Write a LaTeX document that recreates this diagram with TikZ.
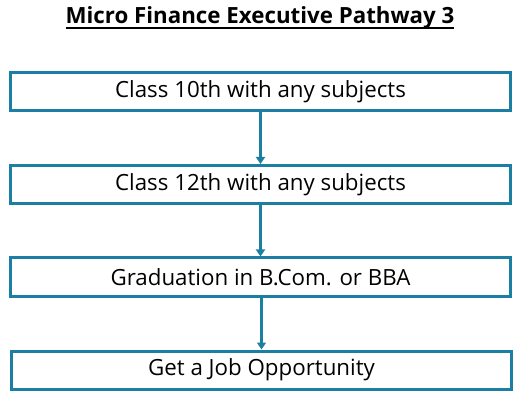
\documentclass[tikz,border=0pt]{standalone}
\usepackage{fontspec}
\setmainfont{Open Sans}
\newcommand{\thickul}[1]{\setbox0\hbox{#1}\rlap{\vrule height -3pt depth 4.8pt width \wd0}\box0}
\usetikzlibrary{arrows.meta}
\definecolor{teal1}{HTML}{1B7FA3}
\begin{document}
\begin{tikzpicture}[x=1pt,y=-1pt,
  stepbox/.style={draw=teal1,line width=3pt,minimum width=500pt,minimum height=38pt,inner sep=0pt,font=\fontsize{22.3}{26}\selectfont},
  conn/.style={draw=teal1,line width=2.5pt,-{Triangle[length=7pt,width=9pt]}}]
\useasboundingbox (0,0) rectangle (520,401);
\node[font=\bfseries\fontsize{22.3}{26}\selectfont] (title) at (260,18) {\thickul{Micro Finance Executive Pathway 3}};
\node[stepbox] (a) at (260.5,92) {Class 10th with any subjects};
\node[stepbox] (b) at (260.5,184.5) {Class 12th with any subjects};
\node[stepbox] (c) at (260.5,277) {Graduation in B.Com. or BBA};
\node[stepbox] (d) at (261.5,370) {Get a Job Opportunity};
\draw[conn] (a.south) -- (b.north);
\draw[conn] (b.south) -- (c.north);
\draw[conn] ([xshift=1pt]c.south) -- ([xshift=0pt]d.north);
\end{tikzpicture}
\end{document}
